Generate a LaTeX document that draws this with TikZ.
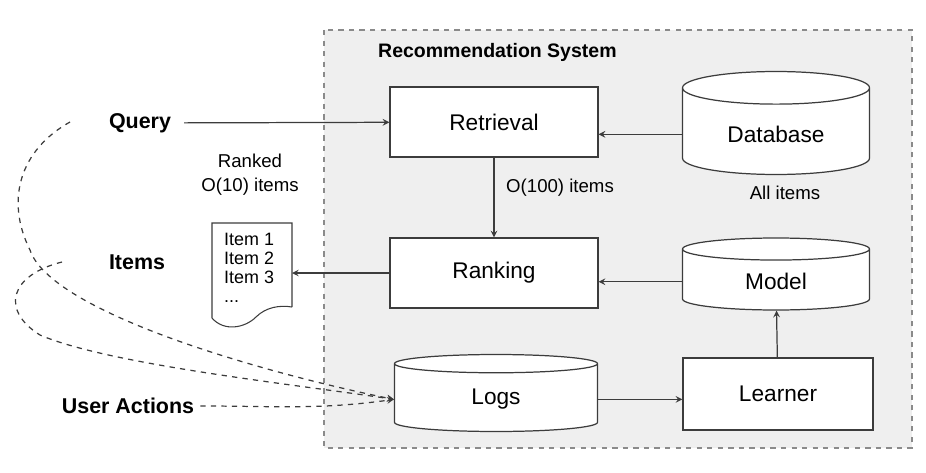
\documentclass[tikz,border=0pt]{standalone}
\usepackage{fontspec}
\setmainfont{Liberation Sans}
\usetikzlibrary{shapes.geometric}
\definecolor{sysfill}{HTML}{EFEFEF}
\definecolor{sysline}{HTML}{8A8A8A}
\definecolor{edgegray}{HTML}{3C3C3C}
\tikzset{
  block/.style={draw=edgegray, fill=white, line width=0.7pt, minimum width=4.16cm, minimum height=1.4cm, font=\fontsize{12.9}{15}\selectfont},
  store/.style={cylinder, shape border rotate=90, aspect=0.3, anchor=shape center, draw=edgegray, fill=white, line width=0.7pt, minimum width=3.74cm, font=\fontsize{12.9}{15}\selectfont},
  side/.style={font=\bfseries\fontsize{12.2}{14}\selectfont},
  note/.style={font=\fontsize{10.6}{13.5}\selectfont},
  flow/.style={->, draw=edgegray, line width=0.7pt},
  feedback/.style={->, dashed, draw=edgegray, line width=0.7pt}
}
\begin{document}
\begin{tikzpicture}[x=0.02cm, y=-0.02cm, >=stealth]
  \useasboundingbox (0,0) rectangle (926,473);
  % system frame
  \draw[sysline, fill=sysfill, dashed, line width=0.6pt] (324,30) rectangle (912,448);
  \node[anchor=west, font=\bfseries\fontsize{11.1}{13}\selectfont] (systitle) at (372,52) {Recommendation System};
  % blocks
  \node[block] (retr) at (494,122) {Retrieval};
  \node[block] (rank) at (494,273) {Ranking};
  \node[block, minimum width=3.8cm, minimum height=1.44cm] (learn) at (778,394) {Learner};
  \node[store, minimum height=2.06cm] (db) at (776,123) {Database};
  \node[store, minimum height=1.44cm] (model) at (776,274) {Model};
  \node[store, minimum width=4.06cm, minimum height=1.54cm] (logs) at (496,393) {Logs};
  \node[note] (allitems) at (785,193) {All items};
  \node[note, anchor=west] (cand) at (500,188) {O(100) items};
  % outside
  \node[side] (query) at (140,123) {Query};
  \node[side] (items) at (137,262) {Items};
  \node[side] (users) at (128,406) {User Actions};
  \node[note, align=center] (ranked) at (250,175) {Ranked\\O(10) items};
  % ranked list
  \draw[edgegray, line width=0.6pt, fill=white] (292,307) -- (292,223) -- (212,223) -- (212,318)
    .. controls (224,332) and (245,328) .. (256,317) .. controls (266,307) and (280,305) .. (292,307);
  \node[anchor=north west, align=left, font=\fontsize{10.2}{10.8}\selectfont] (list) at (218,227) {Item 1\\Item 2\\Item 3\\...};
  \coordinate (docin) at (292,273);
  \coordinate (qtail) at (70,122);
  \coordinate (itail) at (62,262);
  % arrows
  \draw[flow, shorten <=4pt] (query) -- (retr);
  \draw[flow] (db.west) -- (db.west -| retr.east);
  \draw[flow] (retr) -- (rank);
  \draw[flow] (rank.west) -- (docin);
  \draw[flow] (model.west) -- (model.west -| rank.east);
  \draw[flow] (logs.east) -- (logs.east -| learn.west);
  \draw[flow] (learn) -- (model);
  % feedback
  \draw[feedback] (users) to[out=0, in=188] (logs.west);
  \draw[feedback] (qtail) .. controls (20,150) and (5,200) .. (30,250) .. controls (50,310) and (250,370) .. (logs.west);
  \draw[feedback] (itail) .. controls (10,275) and (0,310) .. (40,335) .. controls (110,365) and (300,385) .. (logs.west);
\end{tikzpicture}
\end{document}
